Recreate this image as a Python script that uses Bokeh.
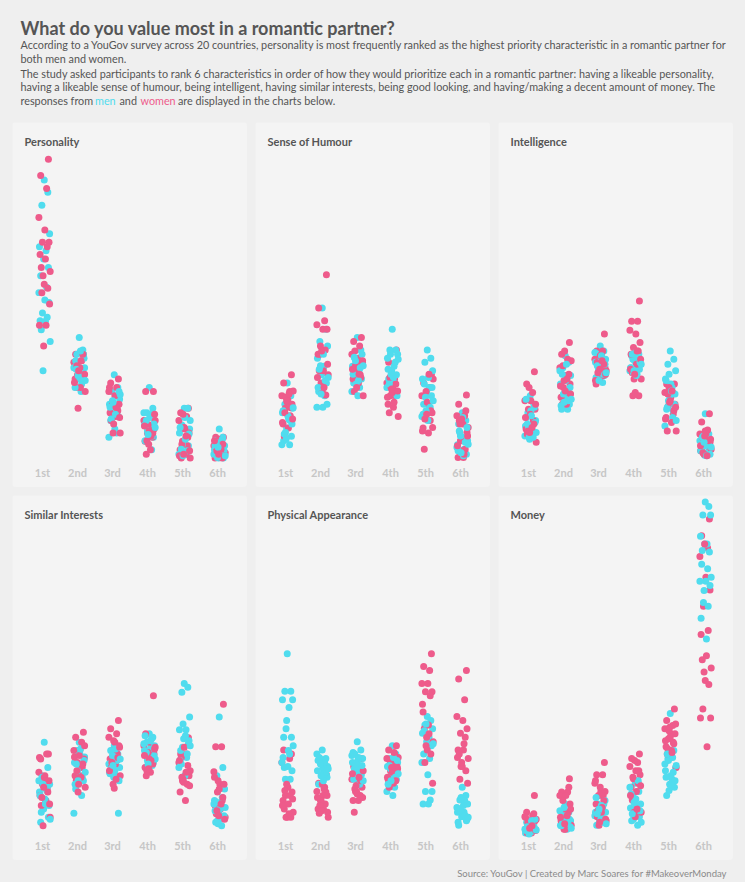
from bokeh.plotting import figure
from bokeh.models import ColumnDataSource, Range1d, Label, Spacer
from bokeh.layouts import column, row
from bokeh.embed import file_html
from bokeh.resources import INLINE
from bokeh.core.properties import value

# ---------------- data (share of respondents, %, one value per country) -------------
RANKS = ["1st", "2nd", "3rd", "4th", "5th", "6th"]
PANEL_TITLES = ["Personality", "Sense of Humour", "Intelligence",
                "Similar Interests", "Physical Appearance", "Money"]

PERSONALITY_MEN = [
    [58.4, 55.9, 53.3, 47.5, 44.9, 44.1, 42.4, 40.7, 39.0, 36.7, 35.6, 34.1, 33.6, 31.5, 30.6, 29.9, 29.8, 28.1, 25.7, 19.8],
    [26.5, 24.0, 23.1, 20.4, 20.4, 15.6, 19.1, 23.1, 21.8, 17.1, 20.4, 18.1, 22.3, 21.1, 19.1, 16.4, 23.8, 20.1, 17.8, 18.8],
    [19.0, 16.4, 15.6, 14.0, 13.0, 12.4, 11.3, 10.5, 9.7, 7.2, 6.3, 8.0, 15.6, 13.7, 11.7, 12.4, 11.0, 10.0, 15.0, 13.4],
    [16.4, 12.2, 11.3, 9.7, 8.8, 8.0, 7.2, 6.3, 5.5, 3.8, 11.3, 10.3, 9.0, 7.6, 6.6, 5.6, 11.0, 9.7, 8.3, 6.9],
    [12.2, 12.2, 8.8, 8.0, 7.2, 6.3, 5.5, 4.6, 3.8, 2.9, 2.9, 10.3, 7.0, 4.9, 3.6, 8.3, 5.9, 3.9, 9.7, 2.6],
    [8.0, 6.3, 5.5, 4.6, 3.8, 2.9, 2.1, 2.1, 5.6, 3.9, 2.9, 4.9, 3.6, 2.2, 5.9, 4.6, 3.2, 5.3, 2.6, 4.3],
]
PERSONALITY_WOMEN = [
    [62.6, 59.3, 56.7, 50.8, 48.3, 45.8, 45.8, 44.9, 43.3, 42.4, 40.7, 39.9, 39.0, 37.3, 36.5, 35.6, 33.3, 29.0, 29.0, 24.8],
    [23.1, 23.1, 21.8, 21.5, 20.4, 18.9, 18.9, 18.1, 18.1, 16.4, 16.4, 15.6, 12.2, 20.4, 23.1, 20.8, 19.1, 17.4, 21.8, 19.8],
    [18.1, 17.3, 16.4, 15.6, 14.7, 13.0, 13.0, 12.2, 11.3, 10.5, 9.7, 7.2, 7.2, 13.0, 11.7, 11.0, 10.3, 16.4, 12.4, 9.0],
    [15.6, 15.6, 10.5, 9.7, 8.8, 8.0, 7.2, 6.3, 5.5, 3.8, 2.9, 9.7, 8.8, 7.6, 7.2, 5.6, 11.0, 8.6, 6.6, 4.9],
    [12.2, 11.3, 10.5, 9.7, 8.0, 7.2, 5.5, 4.6, 3.8, 2.9, 2.1, 2.1, 11.0, 8.3, 6.3, 4.9, 3.6, 2.6, 6.6, 2.9],
    [6.3, 6.3, 5.5, 4.6, 3.8, 2.9, 2.9, 2.1, 2.1, 5.3, 4.3, 3.2, 2.2, 5.9, 4.9, 3.6, 2.6, 5.6, 3.9, 2.9],
]
HUMOUR_MEN = [
    [17.3, 14.7, 13.0, 12.2, 11.3, 9.9, 8.2, 6.5, 5.6, 4.8, 4.8, 10.7, 9.0, 7.3, 9.7, 11.7, 10.3, 7.0, 12.3, 5.9],
    [32.5, 28.2, 25.7, 24.8, 22.3, 20.7, 19.0, 17.3, 15.6, 14.7, 12.4, 12.4, 13.0, 20.8, 17.8, 16.4, 23.1, 20.1, 18.4, 15.1],
    [26.5, 24.0, 22.3, 21.5, 20.7, 19.8, 19.0, 18.1, 17.3, 16.4, 15.6, 14.7, 23.1, 21.8, 20.4, 19.1, 17.8, 22.5, 20.8, 17.1],
    [28.2, 24.0, 24.0, 23.1, 22.3, 20.7, 19.8, 19.0, 18.1, 17.3, 16.4, 15.6, 14.7, 23.1, 21.5, 20.1, 18.4, 17.1, 22.1, 19.1],
    [24.0, 22.3, 21.5, 19.8, 18.1, 16.4, 15.6, 14.7, 13.0, 12.2, 10.5, 9.7, 16.4, 14.4, 12.4, 11.0, 18.4, 17.1, 13.7, 11.7],
    [11.3, 9.7, 7.3, 5.6, 4.8, 3.9, 3.1, 2.9, 9.0, 6.3, 4.3, 10.3, 8.3, 6.6, 5.3, 3.6, 2.6, 7.6, 4.9, 3.2],
]
HUMOUR_WOMEN = [
    [19.0, 17.3, 15.6, 14.7, 13.9, 13.0, 12.2, 10.7, 9.0, 8.2, 6.5, 15.7, 14.4, 13.4, 12.3, 11.3, 10.0, 9.3, 15.1, 13.7],
    [39.2, 32.5, 29.9, 29.1, 28.2, 28.2, 24.8, 24.0, 23.1, 19.8, 19.8, 19.0, 17.3, 15.6, 14.9, 23.1, 21.1, 18.4, 16.4, 23.8],
    [26.5, 25.7, 24.8, 23.1, 22.3, 21.5, 20.7, 19.0, 18.1, 17.3, 15.6, 14.7, 21.1, 19.8, 18.4, 23.8, 21.8, 20.1, 19.1, 16.4],
    [24.0, 21.5, 18.1, 17.3, 16.4, 15.6, 14.7, 14.7, 13.0, 12.4, 11.3, 10.5, 16.4, 15.4, 17.1, 18.4, 15.7, 14.4, 13.4, 16.1],
    [19.0, 17.3, 16.4, 14.7, 13.0, 11.3, 10.5, 9.7, 8.2, 7.2, 3.9, 18.1, 15.6, 13.4, 11.7, 10.0, 8.3, 7.6, 19.1, 11.0],
    [14.9, 13.0, 10.7, 10.7, 9.0, 7.3, 5.6, 3.9, 2.2, 2.2, 9.7, 8.3, 5.6, 3.6, 11.7, 9.0, 6.6, 4.6, 2.9, 10.0],
]
INTELLIGENCE_MEN = [
    [14.7, 13.0, 11.3, 9.7, 8.6, 7.0, 5.9, 12.4, 10.3, 7.6, 6.6, 11.7, 9.3, 8.0, 6.3, 14.0, 10.7, 9.0, 7.3, 6.3],
    [22.8, 21.5, 20.4, 18.8, 17.1, 15.7, 14.4, 13.0, 12.0, 12.0, 19.8, 17.8, 16.4, 15.1, 13.7, 12.7, 21.1, 19.1, 14.0, 13.4],
    [24.8, 23.8, 23.1, 22.1, 21.5, 20.4, 19.8, 18.8, 18.1, 17.4, 23.5, 22.5, 21.1, 20.1, 19.1, 18.4, 22.8, 20.8, 19.4, 17.8],
    [23.8, 23.1, 22.1, 21.1, 20.4, 19.1, 21.8, 20.1, 22.8, 20.8, 19.8, 23.5, 21.5, 19.4, 22.5, 20.4, 18.8, 23.1, 21.1, 19.8],
    [23.8, 22.1, 21.1, 19.8, 18.1, 16.4, 14.7, 13.0, 12.0, 10.3, 8.6, 17.1, 15.1, 13.7, 11.7, 17.8, 15.7, 12.4, 9.7, 19.1],
    [11.1, 7.0, 5.3, 4.4, 3.6, 2.7, 2.7, 5.9, 3.9, 3.2, 5.6, 4.6, 2.9, 6.6, 4.9, 3.6, 2.6, 6.3, 4.3, 5.3],
]
INTELLIGENCE_WOMEN = [
    [19.6, 17.1, 15.4, 13.7, 13.7, 12.0, 12.0, 9.7, 8.0, 7.0, 7.0, 5.3, 16.4, 11.0, 9.0, 7.6, 13.0, 10.3, 8.3, 7.3],
    [25.5, 23.1, 22.1, 20.4, 18.8, 17.1, 16.4, 15.4, 14.4, 13.0, 13.0, 21.8, 17.8, 15.7, 19.1, 20.8, 15.1, 16.7, 18.1, 23.8],
    [27.2, 23.8, 23.8, 22.1, 22.1, 20.4, 20.4, 18.8, 17.1, 23.1, 21.5, 19.8, 18.1, 22.8, 21.1, 19.4, 19.1, 17.8, 21.8, 20.1],
    [33.9, 29.8, 29.8, 28.0, 27.2, 25.5, 24.5, 23.8, 23.1, 21.1, 19.4, 18.1, 18.1, 15.4, 14.7, 14.7, 22.1, 20.1, 23.8, 19.1],
    [17.1, 17.1, 15.4, 15.4, 14.4, 13.0, 12.7, 11.0, 10.3, 9.3, 7.6, 7.6, 16.4, 13.7, 11.7, 15.1, 12.4, 10.0, 15.7, 13.4],
    [11.1, 9.4, 7.8, 7.0, 7.0, 5.3, 5.3, 4.4, 3.6, 2.7, 6.3, 3.9, 2.9, 7.6, 5.6, 3.2, 5.9, 4.6, 2.6, 6.6],
]
INTERESTS_MEN = [
    [20.1, 15.0, 13.3, 11.6, 10.0, 8.3, 6.6, 4.9, 3.9, 10.3, 12.3, 8.6, 7.3, 13.0, 11.0, 9.3, 7.6, 5.9, 4.5, 11.6],
    [20.1, 19.4, 18.4, 17.1, 16.0, 15.0, 13.3, 12.3, 10.6, 9.3, 5.7, 17.7, 16.4, 14.3, 13.0, 11.6, 18.7, 15.7, 14.0, 12.3],
    [19.4, 17.7, 16.0, 15.0, 14.0, 13.3, 13.0, 5.7, 18.4, 17.0, 15.7, 14.3, 12.3, 17.4, 16.4, 13.7, 18.7, 14.7, 16.7, 15.4],
    [21.8, 21.1, 20.1, 19.4, 18.4, 17.7, 17.0, 16.0, 15.0, 20.8, 19.8, 18.7, 17.4, 16.4, 15.4, 21.4, 20.4, 18.0, 16.7, 15.7],
    [32.0, 31.2, 30.2, 25.2, 22.6, 22.6, 20.8, 19.8, 18.4, 17.0, 15.0, 13.3, 20.4, 19.1, 17.7, 16.4, 21.4, 15.7, 19.4, 23.8],
    [25.2, 15.0, 13.3, 10.6, 8.3, 7.3, 5.7, 4.9, 3.9, 3.2, 7.6, 6.6, 5.2, 4.2, 8.9, 6.2, 4.5, 8.0, 6.9, 3.6],
]
INTERESTS_WOMEN = [
    [17.7, 16.7, 17.7, 14.0, 13.3, 12.3, 11.6, 10.6, 9.3, 8.3, 7.3, 4.9, 3.2, 13.0, 10.0, 8.9, 7.6, 17.0, 12.3, 11.0],
    [22.1, 21.1, 20.1, 18.4, 18.4, 16.7, 16.0, 15.0, 13.3, 13.3, 12.3, 11.0, 10.0, 17.4, 15.7, 14.3, 19.4, 17.1, 13.0, 11.6],
    [24.5, 22.8, 21.8, 21.1, 20.1, 19.4, 18.4, 17.7, 16.7, 15.7, 15.0, 13.3, 11.6, 10.8, 17.0, 16.0, 19.1, 14.3, 12.6, 20.4],
    [29.5, 21.8, 19.4, 19.4, 18.4, 17.7, 17.0, 16.0, 15.0, 14.0, 13.3, 19.1, 18.0, 16.7, 15.7, 14.3, 18.7, 17.4, 16.4, 14.7],
    [21.0, 17.7, 17.7, 16.0, 13.3, 13.3, 12.3, 11.6, 10.0, 8.3, 17.0, 14.3, 12.6, 19.1, 15.4, 13.0, 11.3, 16.4, 14.0, 12.0],
    [27.8, 19.2, 19.2, 14.1, 11.6, 11.6, 10.0, 8.3, 7.3, 6.6, 5.6, 4.9, 12.3, 10.6, 8.9, 6.2, 4.5, 13.0, 7.6, 5.2],
]
APPEARANCE_MEN = [
    [38.0, 30.4, 30.4, 28.7, 28.7, 27.1, 24.5, 21.1, 21.1, 17.7, 16.0, 15.2, 14.3, 12.6, 12.6, 17.0, 18.4, 15.0, 19.4, 22.8],
    [18.5, 16.8, 16.8, 15.2, 14.3, 14.3, 13.5, 13.5, 11.6, 16.0, 17.7, 15.0, 13.0, 15.7, 14.0, 16.4, 12.3, 17.0, 14.7, 13.3],
    [20.2, 18.5, 17.7, 16.8, 16.0, 15.2, 14.3, 13.5, 12.6, 11.6, 17.4, 16.4, 15.4, 14.0, 13.0, 18.0, 17.0, 14.7, 12.3, 15.7],
    [19.4, 17.7, 16.8, 16.0, 15.2, 14.3, 13.5, 12.6, 11.8, 11.0, 10.1, 9.3, 16.4, 14.7, 13.0, 11.6, 17.0, 15.4, 13.7, 12.3],
    [25.3, 24.5, 23.6, 22.8, 21.9, 21.1, 20.2, 19.4, 17.7, 16.8, 16.0, 13.5, 10.1, 10.1, 8.4, 7.6, 7.6, 22.4, 19.8, 23.8],
    [11.0, 9.3, 8.4, 7.6, 5.9, 5.9, 5.0, 4.2, 3.3, 8.3, 6.9, 5.6, 4.5, 6.6, 5.2, 3.9, 7.3, 6.2, 4.9, 8.9],
]
APPEARANCE_WOMEN = [
    [17.7, 18.5, 16.8, 16.0, 11.0, 10.0, 9.3, 9.3, 8.3, 7.6, 6.6, 5.9, 4.9, 4.9, 4.9, 10.3, 8.6, 7.3, 5.6, 11.6],
    [13.5, 11.8, 11.0, 10.1, 9.3, 9.3, 8.3, 7.6, 6.6, 6.6, 5.7, 4.9, 8.3, 11.6, 10.0, 7.3, 5.9, 8.9, 10.6, 6.2],
    [16.8, 15.2, 13.5, 12.6, 11.8, 11.0, 10.1, 9.3, 8.3, 8.3, 5.9, 14.3, 11.3, 9.6, 12.3, 10.6, 8.9, 13.7, 13.0, 10.0],
    [19.4, 18.5, 17.7, 16.8, 16.0, 15.2, 14.3, 13.5, 12.6, 11.8, 11.0, 17.0, 15.7, 14.0, 12.3, 16.4, 14.7, 13.0, 18.0, 15.0],
    [38.0, 35.4, 34.6, 32.0, 32.0, 30.3, 30.3, 29.5, 26.2, 23.6, 22.8, 20.2, 19.4, 18.5, 17.7, 16.0, 11.8, 27.8, 21.8, 21.1],
    [34.6, 32.9, 28.7, 25.3, 24.5, 22.8, 21.9, 21.1, 18.5, 18.5, 17.7, 16.8, 15.2, 15.2, 14.3, 12.6, 11.8, 17.0, 19.8, 16.0],
]
MONEY_MEN = [
    [4.2, 3.3, 3.3, 2.5, 1.7, 3.6, 2.9, 2.2, 3.9, 3.2, 2.5, 1.9, 4.5, 3.6, 2.9, 2.2, 4.2, 3.0, 2.3, 1.5],
    [7.6, 5.9, 5.0, 4.2, 3.3, 2.5, 5.6, 4.5, 3.6, 2.9, 6.2, 3.9, 3.0, 5.2, 4.2, 3.2, 4.9, 3.6, 2.7, 6.9],
    [9.3, 7.6, 7.6, 5.9, 5.9, 5.0, 4.2, 4.2, 3.3, 6.9, 5.2, 4.5, 8.3, 6.2, 3.9, 8.9, 7.3, 5.6, 3.6, 6.6],
    [11.8, 10.1, 9.3, 7.6, 6.8, 6.8, 5.9, 5.0, 4.2, 3.3, 11.0, 8.6, 6.2, 4.5, 12.3, 9.6, 7.3, 5.6, 3.9, 7.9],
    [25.9, 18.4, 16.7, 15.0, 14.3, 12.6, 11.6, 11.0, 9.3, 17.0, 15.7, 13.3, 12.3, 16.4, 14.0, 13.0, 11.3, 17.7, 15.4, 10.3],
    [68.7, 67.8, 66.1, 66.1, 61.8, 60.2, 60.2, 58.6, 56.1, 55.2, 52.7, 52.7, 51.8, 48.4, 47.6, 45.2, 41.0, 58.9, 53.5, 50.8],
]
MONEY_WOMEN = [
    [9.3, 5.9, 5.2, 5.0, 4.2, 4.2, 3.3, 2.5, 2.5, 1.7, 1.7, 4.5, 3.6, 2.9, 5.6, 3.9, 2.2, 4.9, 3.2, 2.7],
    [12.7, 10.0, 10.0, 9.3, 9.3, 7.6, 5.9, 5.9, 4.2, 4.2, 3.3, 3.3, 2.5, 2.5, 11.0, 8.3, 6.6, 4.9, 5.2, 3.6],
    [16.0, 13.5, 13.5, 11.8, 10.1, 10.1, 9.3, 9.3, 7.6, 5.9, 5.0, 4.2, 3.3, 11.0, 8.3, 6.2, 4.5, 12.3, 6.9, 3.9],
    [17.7, 16.8, 16.0, 15.2, 14.3, 13.5, 12.7, 11.8, 11.0, 10.1, 8.4, 5.9, 5.9, 5.0, 14.3, 13.0, 11.3, 9.3, 6.6, 16.4],
    [26.8, 24.5, 23.5, 22.8, 21.8, 21.8, 20.8, 20.1, 19.2, 18.4, 17.7, 15.0, 22.4, 21.1, 19.8, 18.7, 23.8, 20.4, 18.0, 23.1],
    [65.3, 61.9, 59.4, 57.7, 53.5, 50.9, 47.6, 42.7, 41.9, 37.6, 36.8, 35.1, 34.3, 32.6, 31.8, 26.8, 25.0, 25.0, 19.2, 60.2],
]

TITLE = "What do you value most in a romantic partner?"
SUB_LINES = [
    "According to a YouGov survey across 20 countries, personality is most frequently ranked as the highest priority characteristic in a romantic partner for",
    "both men and women.",
    "The study asked participants to rank 6 characteristics in order of how they would prioritize each in a romantic partner: having a likeable personality,",
    "having a likeable sense of humour, being intelligent, having similar interests, being good looking, and having/making a decent amount of money. The",
]
LAST_LINE = ["responses from", "men", "and", "women", "are displayed in the charts below."]
SOURCE = "Source: YouGov | Created by Marc Soares for #MakeoverMonday"

# ---------------- style / layout ----------------
FONT = "Lato"
PAGE_BG = "#efefef"
PANEL_BG = "#f4f4f4"
MEN_COLOR = "#50dcee"
WOMEN_COLOR = "#ee5b8b"
TEXT_COLOR = "#555555"
TICK_COLOR = "#c6c6c6"
SUB_SIZE = "10.8px"
PANEL_W, PANEL_H = 235, 365
Y_LO, Y_HI = -3.85, 70.04
TICK_Y = -0.8
TITLE_Y = 66.1
BASE = [0.0, 0.6, -0.4, 0.9, -0.8, 0.3, -0.1, 0.7, -0.6, 0.4,
        -0.9, 0.1, 0.8, -0.3, 0.5, -0.7, 0.2, -0.5, 1.0, -0.2]
JIT_M = [0.05 + 0.17 * b for b in BASE]
JIT_W = [0.05 + 0.17 * BASE[(i + 7) % 20] for i in range(20)]


def panel(title, men, women):
    p = figure(width=PANEL_W, height=PANEL_H, x_range=Range1d(-0.857, 5.857),
               y_range=Range1d(Y_LO, Y_HI), output_backend="svg",
               toolbar_location=None, min_border=0,
               background_fill_color=PANEL_BG, border_fill_color=PANEL_BG,
               outline_line_color=None,
               styles={"border-radius": "4px", "overflow": "hidden"})
    p.xaxis.visible = False
    p.yaxis.visible = False
    p.grid.visible = False
    xs, ys, cs = [], [], []
    for r in range(len(RANKS)):
        for i in range(len(men[r])):
            xs.append(r + JIT_M[i % 20]); ys.append(men[r][i]); cs.append(MEN_COLOR)
            xs.append(r + JIT_W[i % 20]); ys.append(women[r][i]); cs.append(WOMEN_COLOR)
    src = ColumnDataSource(dict(x=xs, y=ys, c=cs))
    p.scatter("x", "y", source=src, size=7, fill_color="c", line_color=None)
    p.text(x=list(range(len(RANKS))), y=[TICK_Y] * len(RANKS), text=RANKS,
           text_font=value(FONT), text_font_style="bold", text_font_size="11px",
           text_color=TICK_COLOR, text_align="center", text_baseline="middle")
    p.add_layout(Label(x=12, x_units="screen", y=TITLE_Y, y_units="data", text=title,
                       text_font=FONT, text_font_style="bold", text_font_size="11px",
                       text_color=TEXT_COLOR, text_baseline="middle"))
    return p


def text_fig(w, h):
    f = figure(width=w, height=h, x_range=Range1d(0, w), y_range=Range1d(h, 0),
               output_backend="svg", toolbar_location=None, min_border=0,
               background_fill_color=PAGE_BG, border_fill_color=PAGE_BG,
               outline_line_color=None)
    f.xaxis.visible = False
    f.yaxis.visible = False
    f.grid.visible = False
    return f


header = text_fig(729, 114)
header.text(x=[12], y=[19], text=[TITLE], text_font=value(FONT), text_font_style="bold",
            text_font_size="18px", text_color=TEXT_COLOR, text_baseline="alphabetic")
sub_y = [36.3, 49.7, 65.3, 78.0]
header.text(x=[12] * len(SUB_LINES), y=sub_y, text=SUB_LINES, text_font=value(FONT),
            text_font_size=SUB_SIZE, text_color=TEXT_COLOR, text_baseline="middle")
last_x = [12, 86.5, 111, 132, 169.5]
last_c = [TEXT_COLOR, MEN_COLOR, TEXT_COLOR, WOMEN_COLOR, TEXT_COLOR]
header.text(x=last_x, y=[92] * 5, text=LAST_LINE, text_font=value(FONT),
            text_font_size=SUB_SIZE, text_color=last_c, text_baseline="middle")

footer = text_fig(729, 22)
footer.text(x=[719], y=[12.7], text=[SOURCE], text_font=value(FONT), text_font_size="9.5px",
            text_color="#8a8a8a", text_align="right", text_baseline="middle")

datasets = [(PERSONALITY_MEN, PERSONALITY_WOMEN), (HUMOUR_MEN, HUMOUR_WOMEN),
            (INTELLIGENCE_MEN, INTELLIGENCE_WOMEN), (INTERESTS_MEN, INTERESTS_WOMEN),
            (APPEARANCE_MEN, APPEARANCE_WOMEN), (MONEY_MEN, MONEY_WOMEN)]
panels = [panel(t, m, w) for t, (m, w) in zip(PANEL_TITLES, datasets)]

row1 = row(Spacer(width=4, height=PANEL_H), panels[0], Spacer(width=8, height=PANEL_H),
           panels[1], Spacer(width=8, height=PANEL_H), panels[2])
row2 = row(Spacer(width=4, height=PANEL_H), panels[3], Spacer(width=8, height=PANEL_H),
           panels[4], Spacer(width=8, height=PANEL_H), panels[5])
layout = column(header, row1, Spacer(width=729, height=8), row2, footer)

html = file_html(layout, INLINE, title="What do you value most in a romantic partner?")
html = html.replace("</head>",
                    "<style>html,body{background:#efefef;}"
                    "body{margin:8px !important;overflow:hidden;}</style></head>", 1)
open("out.html", "w").write(html)
